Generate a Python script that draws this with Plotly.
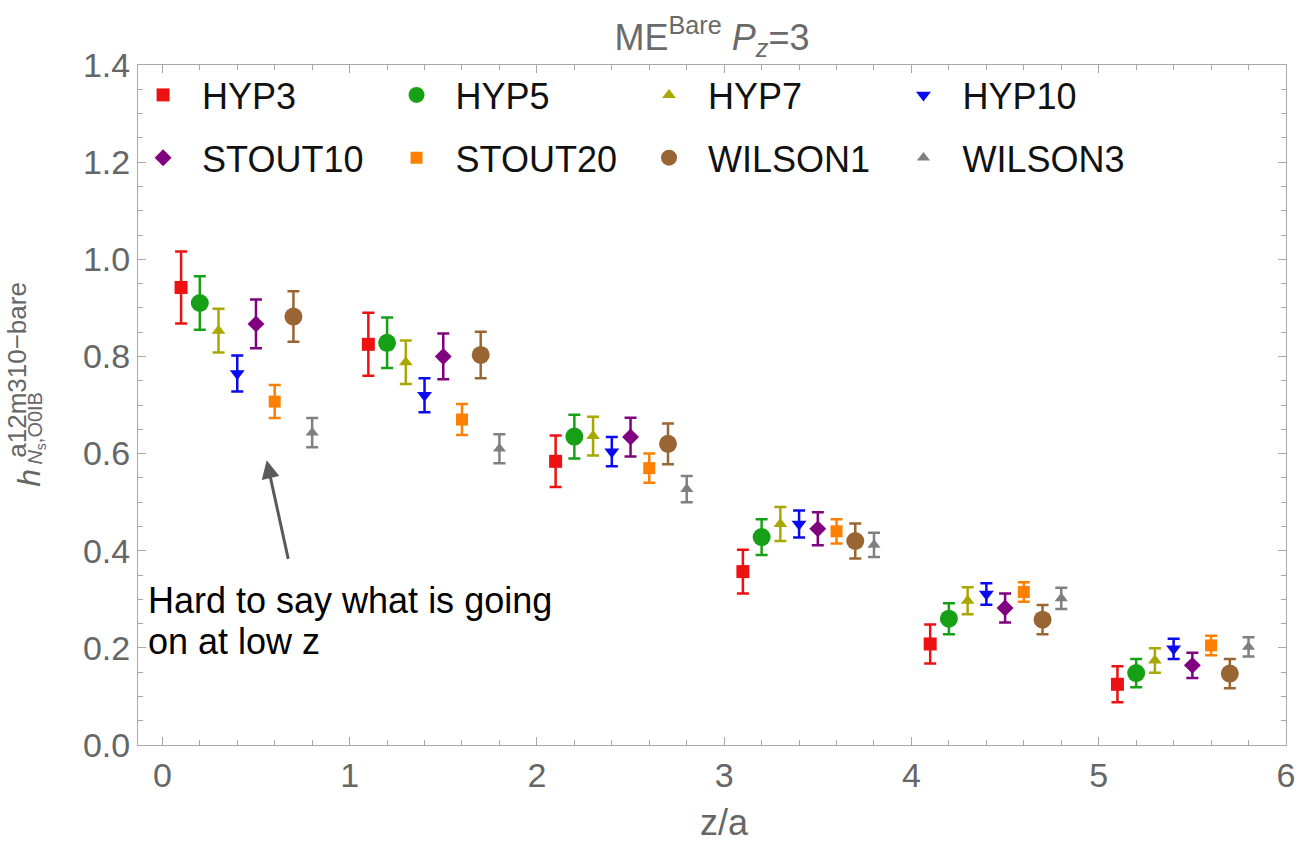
import plotly.graph_objects as go

# ---- data ----
z_values = [0, 1, 2, 3, 4, 5]
series_names = ["HYP3", "HYP5", "HYP7", "HYP10", "STOUT10", "STOUT20", "WILSON1", "WILSON3"]
offsets = [0.1, 0.2, 0.3, 0.4, 0.5, 0.6, 0.7, 0.8]

HYP3 = [0.942, 0.825, 0.584, 0.357, 0.208, 0.125]
HYP3_err = [0.074, 0.065, 0.053, 0.045, 0.040, 0.037]
HYP5 = [0.910, 0.828, 0.635, 0.428, 0.260, 0.148]
HYP5_err = [0.055, 0.052, 0.045, 0.037, 0.032, 0.029]
HYP7 = [0.853, 0.788, 0.636, 0.455, 0.297, 0.174]
HYP7_err = [0.045, 0.045, 0.040, 0.035, 0.028, 0.025]
HYP10 = [0.765, 0.720, 0.604, 0.455, 0.311, 0.198]
HYP10_err = [0.037, 0.035, 0.030, 0.028, 0.022, 0.021]
STOUT10 = [0.867, 0.800, 0.634, 0.445, 0.282, 0.164]
STOUT10_err = [0.050, 0.047, 0.040, 0.034, 0.030, 0.026]
STOUT20 = [0.707, 0.670, 0.570, 0.440, 0.315, 0.205]
STOUT20_err = [0.034, 0.032, 0.030, 0.025, 0.020, 0.020]
WILSON1 = [0.882, 0.803, 0.620, 0.420, 0.258, 0.147]
WILSON1_err = [0.052, 0.048, 0.042, 0.036, 0.030, 0.030]
WILSON3 = [0.643, 0.610, 0.527, 0.412, 0.302, 0.202]
WILSON3_err = [0.030, 0.030, 0.027, 0.025, 0.022, 0.020]

values = [HYP3, HYP5, HYP7, HYP10, STOUT10, STOUT20, WILSON1, WILSON3]
errors = [HYP3_err, HYP5_err, HYP7_err, HYP10_err, STOUT10_err, STOUT20_err, WILSON1_err, WILSON3_err]

colors = ["#ee1111", "#16a016", "#a8a800", "#0a0aee", "#800080", "#ff8000", "#996633", "#808080"]
symbols = ["square", "circle", "triangle-up", "triangle-down", "diamond", "square", "circle", "triangle-up"]
sizes = [13, 18, 12, 13, 13, 12, 18, 11.5]
legend_ids = ["legend", "legend2", "legend3", "legend4", "legend", "legend2", "legend3", "legend4"]

y_ticks = [0.0, 0.2, 0.4, 0.6, 0.8, 1.0, 1.2, 1.4]
x_ticks = [0, 1, 2, 3, 4, 5, 6]

FONT = "Liberation Sans, Arial"

fig = go.Figure()
for i, name in enumerate(series_names):
    xs = [z + offsets[i] for z in z_values]
    fig.add_trace(go.Scatter(
        x=xs, y=values[i], mode="markers", name=name,
        marker=dict(symbol=symbols[i], size=sizes[i], color=colors[i], line=dict(width=0)),
        error_y=dict(type="data", array=errors[i], visible=True, color=colors[i],
                     thickness=2.5, width=6),
        legend=legend_ids[i], legendgroup=name,
    ))

L, R, T, B = 138, 14, 65, 97
W, H = 1307, 842
pw, ph = W - L - R, H - T - B


def px(xp):
    return (xp - L) / pw


def py(yp):
    return (H - B - yp) / ph


legend_common = dict(font=dict(family=FONT, size=36, color="#111"),
                     bgcolor="rgba(0,0,0,0)", tracegroupgap=13, yanchor="top",
                     xanchor="left", orientation="v", itemclick=False, itemwidth=68)
col_left = [124, 379, 633, 889]
layout_legends = {}
for k, lid in enumerate(["legend", "legend2", "legend3", "legend4"]):
    layout_legends[lid] = dict(legend_common, x=px(col_left[k]), y=py(65))

axis_common = dict(showline=True, linecolor="#a8a8a8", linewidth=1, mirror="allticks",
                   ticks="inside", tickcolor="#a8a8a8", ticklen=8, tickwidth=1,
                   showgrid=False, zeroline=False,
                   tickfont=dict(family=FONT, size=34, color="#666"))

fig.update_layout(
    width=W, height=H,
    margin=dict(l=L, r=R, t=T, b=B),
    paper_bgcolor="white", plot_bgcolor="white",
    showlegend=True,
    title=dict(text="ME<sup>Bare</sup> <i>P</i><sub><i>z</i></sub>=3", xref="paper", x=0.5,
               xanchor="center", y=1 - 37 / H, yanchor="middle",
               font=dict(family=FONT, size=36, color="#6a6a6a")),
    xaxis=dict(axis_common, range=[-0.13, 6.0], tickvals=x_ticks,
               minor=dict(dtick=0.2, ticks="inside", ticklen=5, tickcolor="#a8a8a8")),
    yaxis=dict(axis_common, range=[0, 1.4], tickvals=y_ticks, tickformat=".1f",
               minor=dict(dtick=0.05, ticks="inside", ticklen=5, tickcolor="#a8a8a8")),
    **layout_legends,
)

# x-axis title
fig.add_annotation(xref="paper", yref="paper", x=px(728), y=py(822), text="z/a",
                   showarrow=False, xanchor="center", yanchor="middle",
                   font=dict(family=FONT, size=36, color="#666"))

# y-axis label built from stacked pieces
fig.add_annotation(xref="paper", yref="paper", x=px(28), y=py(478), text="<i>h</i>",
                   showarrow=False, textangle=-90, xanchor="center", yanchor="middle",
                   font=dict(family=FONT, size=32, color="#666"))
fig.add_annotation(xref="paper", yref="paper", x=px(16), y=py(370), text="a12m310\u2212bare",
                   showarrow=False, textangle=-90, xanchor="center", yanchor="middle",
                   font=dict(family=FONT, size=26, color="#666"))
fig.add_annotation(xref="paper", yref="paper", x=px(35), y=py(428),
                   text="<i>N</i><sub>s</sub>,O0IB",
                   showarrow=False, textangle=-90, xanchor="center", yanchor="middle",
                   font=dict(family=FONT, size=20, color="#666"))

# arrow
fig.add_annotation(x=0.557, y=0.586, ax=0.674, ay=0.380, xref="x", yref="y", axref="x", ayref="y",
                   text="", showarrow=True, arrowhead=2, arrowsize=1.2, arrowwidth=3,
                   arrowcolor="#5a5a5a")
# comment text, two lines
comment_lines = ["Hard to say what is going", "on at low z"]
line_tops = [578, 619]
for txt, top in zip(comment_lines, line_tops):
    fig.add_annotation(xref="paper", yref="paper", x=px(146), y=py(top), xanchor="left",
                       yanchor="top", text=txt, showarrow=False, align="left",
                       font=dict(family=FONT, size=36, color="black"))

fig.write_html("out.html")
